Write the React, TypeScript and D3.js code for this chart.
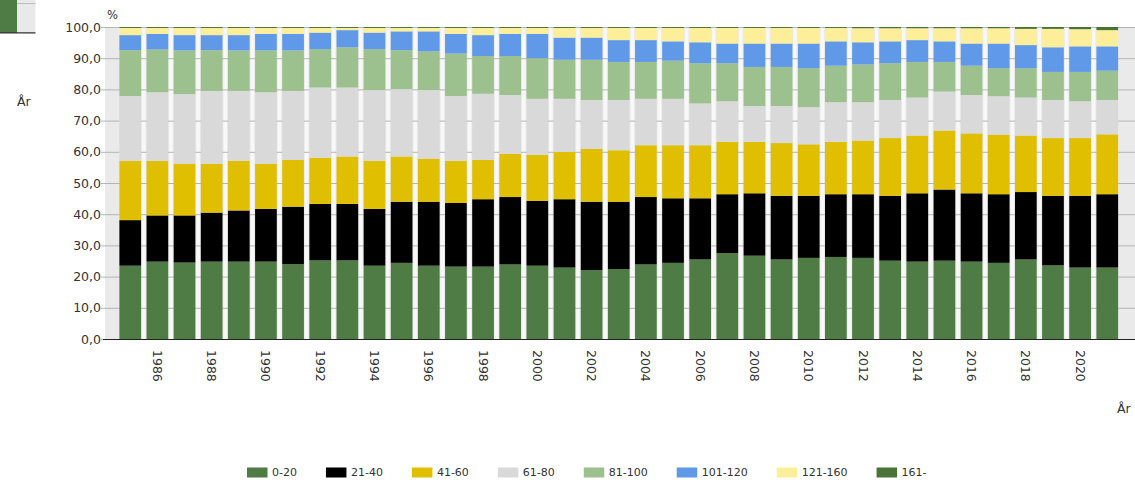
import React from "react";
import * as d3 from "d3";

const years = d3.range(1985, 2022).map(String);
const seriesNames = ["0-20", "21-40", "41-60", "61-80", "81-100", "101-120", "121-160", "161-"];
const seriesColors = ["#4f7b45", "#000000", "#dfbf00", "#d9d9d9", "#9cc08e", "#6099e8", "#fdef9a", "#4a7337"];

const s0_20 = [23.5, 24.8, 24.5, 24.8, 24.8, 24.8, 24.0, 25.2, 25.2, 23.5, 24.4, 23.5, 23.2, 23.2, 23.9, 23.5, 22.9, 22.1, 22.4, 23.9, 24.4, 25.5, 27.5, 26.7, 25.5, 26.0, 26.3, 26.0, 25.1, 24.8, 25.1, 24.8, 24.4, 25.5, 23.6, 22.9, 22.9];
const s21_40 = [14.6, 14.8, 15.1, 15.7, 16.4, 16.9, 18.4, 18.1, 18.1, 18.2, 19.6, 20.5, 20.4, 21.6, 21.6, 20.8, 21.9, 21.9, 21.6, 21.6, 20.7, 19.6, 18.9, 20.0, 20.4, 19.9, 20.1, 20.4, 20.8, 21.9, 22.8, 21.9, 22.0, 21.6, 22.3, 23.0, 23.5];
const s41_60 = [19.0, 17.5, 16.6, 15.7, 15.9, 14.5, 15.0, 14.8, 15.2, 15.4, 14.5, 13.8, 13.5, 12.6, 13.8, 14.7, 15.2, 16.9, 16.5, 16.6, 17.0, 17.0, 16.8, 16.5, 16.9, 16.5, 16.8, 17.2, 18.5, 18.5, 18.9, 19.2, 19.1, 18.1, 18.5, 18.5, 19.2];
const s61_80 = [20.8, 22.0, 22.3, 23.3, 22.4, 22.9, 22.1, 22.5, 22.1, 22.7, 21.6, 22.0, 20.8, 21.2, 18.9, 18.0, 17.0, 15.7, 16.1, 14.9, 14.9, 13.4, 13.0, 11.5, 11.9, 11.9, 12.7, 12.3, 12.2, 12.2, 12.5, 12.3, 12.3, 12.2, 12.2, 11.8, 11.0];
const s81_100 = [14.7, 13.7, 14.0, 13.1, 13.0, 13.4, 13.0, 12.3, 12.9, 13.1, 12.5, 12.4, 13.6, 12.1, 12.5, 13.0, 12.5, 12.9, 12.2, 11.8, 12.2, 12.9, 12.2, 12.5, 12.5, 12.5, 11.7, 12.1, 11.8, 11.4, 9.5, 9.4, 9.0, 9.4, 9.0, 9.4, 9.4];
const s101_120 = [4.8, 5.0, 4.9, 4.8, 4.9, 5.3, 5.3, 5.3, 5.5, 5.3, 6.0, 6.4, 6.3, 6.7, 7.1, 7.8, 7.1, 7.1, 7.0, 7.0, 6.2, 6.7, 6.3, 7.5, 7.5, 7.9, 7.8, 7.1, 7.0, 7.0, 6.6, 7.1, 7.9, 7.4, 7.9, 8.2, 7.8];
const s121_160 = [2.3, 1.9, 2.3, 2.3, 2.3, 1.9, 1.9, 1.5, 0.7, 1.5, 1.1, 1.1, 1.9, 2.3, 1.9, 1.9, 3.1, 3.1, 3.9, 3.9, 4.3, 4.6, 5.0, 5.0, 5.0, 5.0, 4.3, 4.5, 4.2, 3.8, 4.2, 4.9, 4.9, 5.2, 5.9, 5.5, 5.2];
const s161 = [0.3, 0.3, 0.3, 0.3, 0.3, 0.3, 0.3, 0.3, 0.3, 0.3, 0.3, 0.3, 0.3, 0.3, 0.3, 0.3, 0.3, 0.3, 0.3, 0.3, 0.3, 0.3, 0.3, 0.3, 0.3, 0.3, 0.3, 0.4, 0.4, 0.4, 0.4, 0.4, 0.4, 0.6, 0.6, 0.7, 1.0];

const yTicks = [0, 10, 20, 30, 40, 50, 60, 70, 80, 90, 100];
const xTickYears = d3.range(1986, 2021, 2).map(String);

const W = 1135;
const H = 483;
const FONT = "'DejaVu Sans', Verdana, sans-serif";

export default function App() {
  const allSeries = [s0_20, s21_40, s41_60, s61_80, s81_100, s101_120, s121_160, s161];
  const table = years.map((y, i) => {
    const row: any = { year: y };
    seriesNames.forEach((n, k) => (row[n] = allSeries[k][i]));
    return row;
  });
  const stacked = d3.stack().keys(seriesNames)(table);

  const plotLeft = 105;
  const plotRight = 1135;
  const x = d3.scaleBand().domain(years).range([105, 1132.5]).paddingInner(0.2).paddingOuter(0.53);
  const y = d3.scaleLinear().domain([0, 100]).range([339, 27]);
  const bw = x.bandwidth();
  const step = x.step();

  // legend layout
  const charW = (s: string, fs: number) =>
    s.split("").reduce((a, c) => a + (c === "-" ? 0.36 : 0.636) * fs, 0);
  const legFs = 11;
  let lx = 247;
  const legendItems = seriesNames.map((n, i) => {
    const item = { n, c: seriesColors[i], x: lx };
    lx += 20 + 5 + charW(n, legFs) + 29;
    return item;
  });

  return (
    <div style={{ position: "absolute", left: 0, top: 0 }}>
      <svg width={W} height={H} style={{ display: "block", background: "#fff" }}>
        {/* clipped fragment top-left */}
        <rect x={0} y={0} width={17} height={33} fill="#4f7b45" />
        <rect x={17} y={0} width={18.5} height={33} fill="#e9e9e9" />
        <line x1={17} x2={35.5} y1={3.5} y2={3.5} stroke="#bdbdbd" />
        <line x1={0} x2={35.5} y1={32.8} y2={32.8} stroke="#333" strokeWidth={1.2} />

        {/* plot background */}
        <rect x={plotLeft} y={y(100)} width={plotRight - plotLeft} height={y(0) - y(100)} fill="#eaeaea" />
        {years.slice(1).map((yr) => (
          <rect key={"g" + yr} x={(x(yr) as number) - (step - bw) / 2 - 1.75} y={y(100)} width={3.5} height={y(0) - y(100)} fill="#f8f8f8" />
        ))}
        {yTicks.map((t) => (
          <line key={"gl" + t} x1={101} x2={plotRight} y1={y(t) + 0.5} y2={y(t) + 0.5} stroke="#b4b4b4" strokeWidth={1} />
        ))}

        {/* bars */}
        {stacked.map((s, k) => (
          <g key={s.key} fill={seriesColors[k]}>
            {s.map((d, i) => (
              <rect key={i} x={x(years[i]) as number} y={y(d[1])} width={bw} height={Math.max(0, y(d[0]) - y(d[1]))} />
            ))}
          </g>
        ))}

        {/* baseline */}
        <line x1={103} x2={plotRight} y1={y(0) + 0.5} y2={y(0) + 0.5} stroke="#222" strokeWidth={1.2} />

        {/* y tick labels */}
        {yTicks.map((t) => (
          <text key={"yt" + t} x={101} y={y(t)} dy="0.36em" textAnchor="end" fontFamily={FONT} fontSize={12.5} fill="#333">
            {d3.format(".1f")(t).replace(".", ",")}
          </text>
        ))}
        <text x={107} y={19} fontFamily={FONT} fontSize={11.5} fill="#333">%</text>
        <text x={17} y={106} fontFamily={FONT} fontSize={12.5} fill="#333">År</text>

        {/* x tick labels */}
        {xTickYears.map((yr) => (
          <text
            key={"xt" + yr}
            transform={`translate(${(x(yr) as number) + bw / 2},350) rotate(90)`}
            dy="0.36em"
            textAnchor="start"
            fontFamily={FONT}
            fontSize={12.5}
            fill="#333"
          >
            {yr}
          </text>
        ))}
        <text x={1117} y={413} fontFamily={FONT} fontSize={12.5} fill="#333">År</text>

        {/* legend */}
        {legendItems.map((it) => (
          <g key={"lg" + it.n}>
            <rect x={it.x} y={467.5} width={20.5} height={10} fill={it.c} />
            <text x={it.x + 25} y={472.5} dy="0.36em" fontFamily={FONT} fontSize={legFs} fill="#333">
              {it.n}
            </text>
          </g>
        ))}
      </svg>
    </div>
  );
}
